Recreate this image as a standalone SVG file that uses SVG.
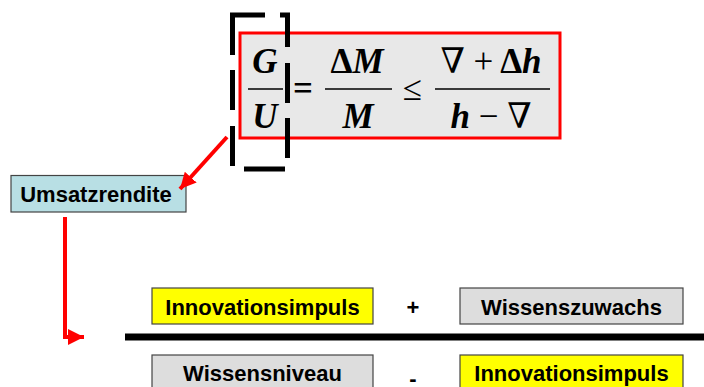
<svg xmlns="http://www.w3.org/2000/svg" width="704" height="387" viewBox="0 0 704 387">
<defs>
<style>
.box{stroke:#444;stroke-width:1.2}
.lbl{font-family:"Liberation Sans",Arial,sans-serif;font-weight:bold;font-size:22px;fill:#000;text-anchor:middle}
.math{font-family:"Liberation Serif","DejaVu Serif",serif;font-weight:bold;font-size:35px;fill:#000;text-anchor:middle}
.it{font-style:italic}
.nw{font-weight:normal}
.frac{stroke:#000;stroke-width:1.6}
.dash{fill:none;stroke:#000;stroke-width:5}
.conn{fill:none;stroke:#ff0000;stroke-width:4}
</style>
<marker id="ah" markerUnits="userSpaceOnUse" markerWidth="18" markerHeight="18" refX="16" refY="8" orient="auto" viewBox="0 0 18 16">
<path d="M0,0 L16,8 L0,16 Z" fill="#ff0000"/>
</marker>
</defs>

<g id="formula">
<rect x="240" y="33" width="320" height="105" fill="#e8e8e8" stroke="#ff0000" stroke-width="3"/>
<text class="math it" x="265" y="73">G</text>
<line class="frac" x1="248" y1="89" x2="283" y2="89"/>
<text class="math it" x="265" y="128">U</text>
<text class="math" x="303" y="100">=</text>
<text class="math" x="357" y="73">Δ<tspan class="it">M</tspan></text>
<line class="frac" x1="325" y1="89" x2="392" y2="89"/>
<text class="math it" x="358" y="128">M</text>
<text class="math nw" x="412" y="100">≤</text>
<text class="math" x="491" y="73"><tspan class="nw">∇ +</tspan> Δ<tspan class="it">h</tspan></text>
<line class="frac" x1="435" y1="89" x2="550" y2="89"/>
<text class="math" x="491" y="128"><tspan class="it">h</tspan> <tspan class="nw">− ∇</tspan></text>
</g>

<g id="dashed-frame">
<polyline class="dash" points="265,15 232.5,15 232.5,55"/>
<polyline class="dash" points="280,15 287.5,15 287.5,47"/>
<line class="dash" x1="287.5" y1="63" x2="287.5" y2="103"/>
<line class="dash" x1="287.5" y1="118" x2="287.5" y2="158"/>
<line class="dash" x1="244" y1="169" x2="285" y2="169"/>
<line class="dash" x1="232.5" y1="70" x2="232.5" y2="110"/>
<line class="dash" x1="232.5" y1="126" x2="232.5" y2="166"/>
</g>

<g id="umsatzrendite">
<rect class="box" x="11" y="175.5" width="175" height="36.5" fill="#b8dfe4"/>
<text class="lbl" x="96" y="202">Umsatzrendite</text>
</g>

<g id="innovationsimpuls-top">
<rect class="box" x="152" y="288" width="221" height="36" fill="#ffff00"/>
<text class="lbl" x="262.5" y="315">Innovationsimpuls</text>
</g>
<g id="plus"><text class="lbl" x="413" y="315">+</text></g>
<g id="wissenszuwachs">
<rect class="box" x="460" y="288" width="223" height="36" fill="#dddddd"/>
<text class="lbl" x="571.5" y="315">Wissenszuwachs</text>
</g>

<g id="fraction-bar">
<line x1="125" y1="337" x2="704" y2="337" stroke="#000" stroke-width="7"/>
</g>

<g id="wissensniveau">
<rect class="box" x="152" y="355" width="221" height="40" fill="#dddddd"/>
<text class="lbl" x="262.5" y="381">Wissensniveau</text>
</g>
<g id="minus"><text class="lbl" x="413" y="386">-</text></g>
<g id="innovationsimpuls-bottom">
<rect class="box" x="460" y="355" width="223" height="40" fill="#ffff00"/>
<text class="lbl" x="571.5" y="381">Innovationsimpuls</text>
</g>

<g id="connectors">
<line class="conn" x1="227" y1="137" x2="180" y2="189" marker-end="url(#ah)"/>
<path class="conn" d="M65,217 V337 H84" marker-end="url(#ah)"/>
</g>
</svg>
